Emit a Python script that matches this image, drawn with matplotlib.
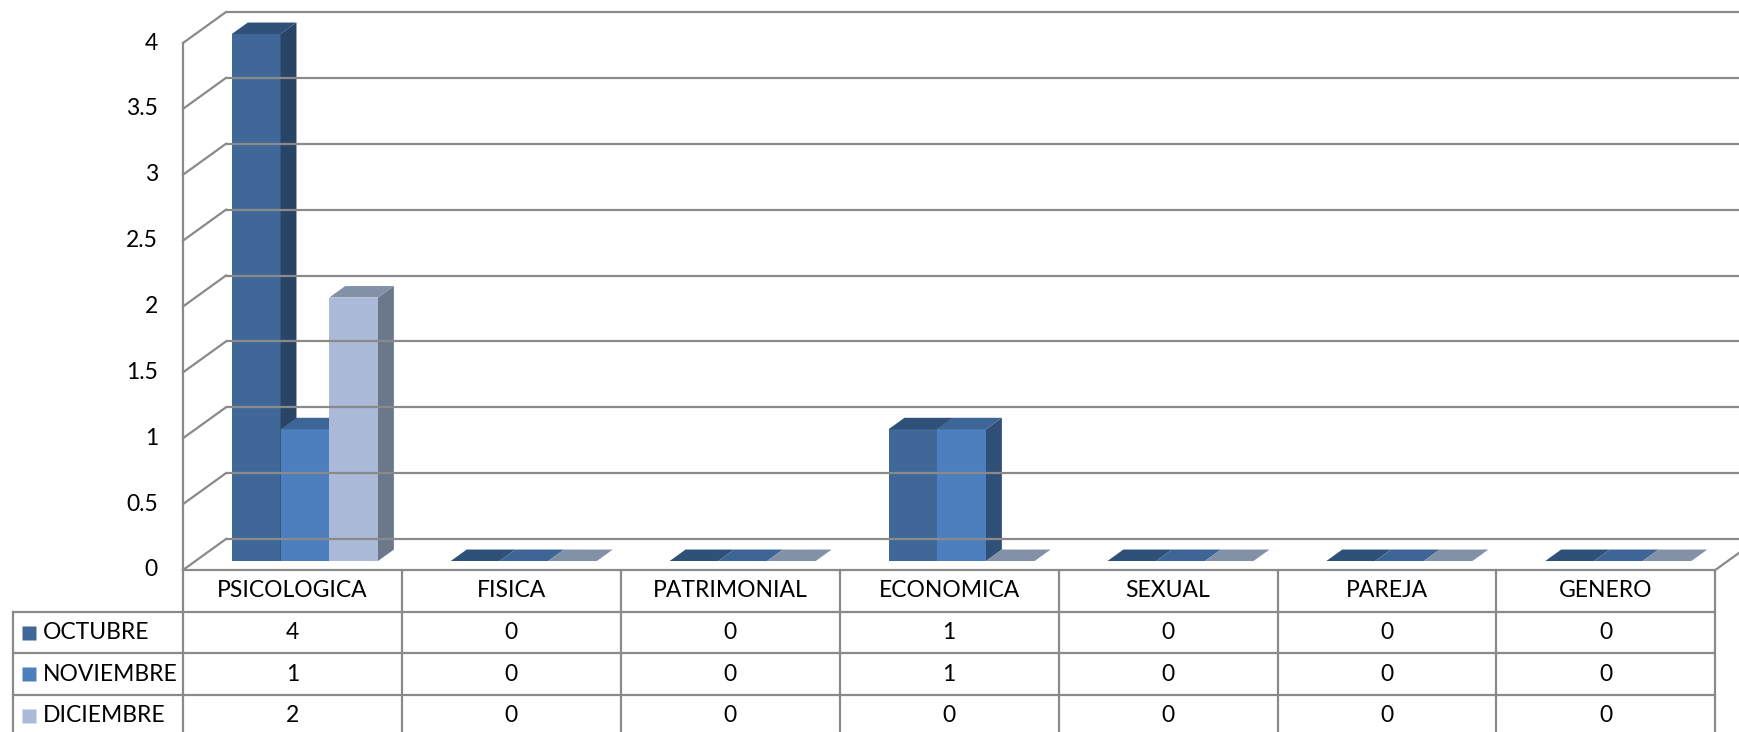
import numpy as np
import matplotlib
matplotlib.use("Agg")
import matplotlib.pyplot as plt
from matplotlib.patches import Polygon

plt.rcParams['font.family'] = ['Lato', 'DejaVu Sans']

# data
categorias = ["PSICOLOGICA", "FISICA", "PATRIMONIAL", "ECONOMICA", "SEXUAL", "PAREJA", "GENERO"]
meses = ["OCTUBRE", "NOVIEMBRE", "DICIEMBRE"]
octubre = [4, 0, 0, 1, 0, 0, 0]
noviembre = [1, 0, 0, 1, 0, 0, 0]
diciembre = [2, 0, 0, 0, 0, 0, 0]
valores = [octubre, noviembre, diciembre]
yticks = np.arange(0, 4.01, 0.5)

# colours: front, side, top
col_front = ["#3F6899", "#4D7FBE", "#AABAD8"]
col_side = ["#2A4466", "#30507A", "#6B778A"]
col_top = ["#2F5079", "#3D6595", "#8391A8"]
grid_c = "#8A8A8A"

# layout in pixels
W, H = 1740, 732
X0, CW = 183, 218.9      # left edge of plot, width of one category
Y0, PU = 570, 131.75     # zero line, pixels per unit
DX, DY = 43, 31          # depth of the box
ddx, ddy = DX / CW, DY / PU

fig = plt.figure(figsize=(W / 100, H / 100), dpi=100)
ax = fig.add_axes([0, 0, 1, 1])
ax.set_xlim(-X0 / CW, (W - X0) / CW)
ax.set_ylim((Y0 - H) / PU, Y0 / PU)
ax.axis("off")


def P(x, v, d):
    return (x + d * ddx, v + d * ddy)


lw = 1.6
n = len(categorias)
# walls
for v in yticks:
    a, b = P(0, v, 1), P(n + 0.5, v, 1)
    ax.plot([a[0], b[0]], [a[1], b[1]], color=grid_c, lw=lw, solid_capstyle="butt")
    c = P(0, v, 0)
    ax.plot([c[0], a[0]], [c[1], a[1]], color=grid_c, lw=lw)
    ax.text(c[0] - 25 / CW, v, f"{v:g}", ha="right", va="center", fontsize=16.5)
f0, f1 = P(0, 0, 0), P(0, yticks[-1], 0)
ax.plot([f0[0], f1[0]], [f0[1], f1[1]], color=grid_c, lw=lw)
r0, r1 = P(n, 0, 0), P(n, 0, 1)
ax.plot([r0[0], r1[0]], [r0[1], r1[1]], color=grid_c, lw=lw)

# bars
bw = 0.2225
start = 0.5 - 1.5 * bw
d0, d1 = 0.29, 0.66
for i in range(n):
    for j, serie in enumerate(valores):
        v = serie[i]
        xl = i + start + j * bw
        xr = xl + bw
        if v > 0:
            front = [P(xl, 0, d0), P(xr, 0, d0), P(xr, v, d0), P(xl, v, d0)]
            side = [P(xr, 0, d0), P(xr, 0, d1), P(xr, v, d1), P(xr, v, d0)]
            ax.add_patch(Polygon(front, closed=True, fc=col_front[j], ec="none"))
            ax.add_patch(Polygon(side, closed=True, fc=col_side[j], ec="none"))
        top = [P(xl, v, d0), P(xr, v, d0), P(xr, v, d1), P(xl, v, d1)]
        ax.add_patch(Polygon(top, closed=True, fc=col_top[j], ec="none"))

# data table
rh = 41.7 / PU
xL = (13 - X0) / CW
ybot = (Y0 - H) / PU - 0.1
ax.plot([0, n], [0, 0], color=grid_c, lw=lw, clip_on=False)
for k in range(1, 4):
    ax.plot([xL, n], [-k * rh, -k * rh], color=grid_c, lw=lw)
for i in range(n + 1):
    ax.plot([i, i], [0, ybot], color=grid_c, lw=lw)
ax.plot([xL, xL], [-rh, ybot], color=grid_c, lw=lw)

for i, cat in enumerate(categorias):
    ax.text(i + 0.5, -rh / 2, cat, ha="center", va="center", fontsize=16.5)
for k, (mes, serie) in enumerate(zip(meses, valores)):
    yc = -rh * (k + 1.5)
    ax.plot([(29 - X0) / CW], [yc], marker="s", ms=10, color=col_front[k], mec="none")
    ax.text((43 - X0) / CW, yc, mes, ha="left", va="center", fontsize=16.5)
    for i, v in enumerate(serie):
        ax.text(i + 0.5, yc, str(v), ha="center", va="center", fontsize=16.5)

fig.savefig("out.png", dpi=100)
